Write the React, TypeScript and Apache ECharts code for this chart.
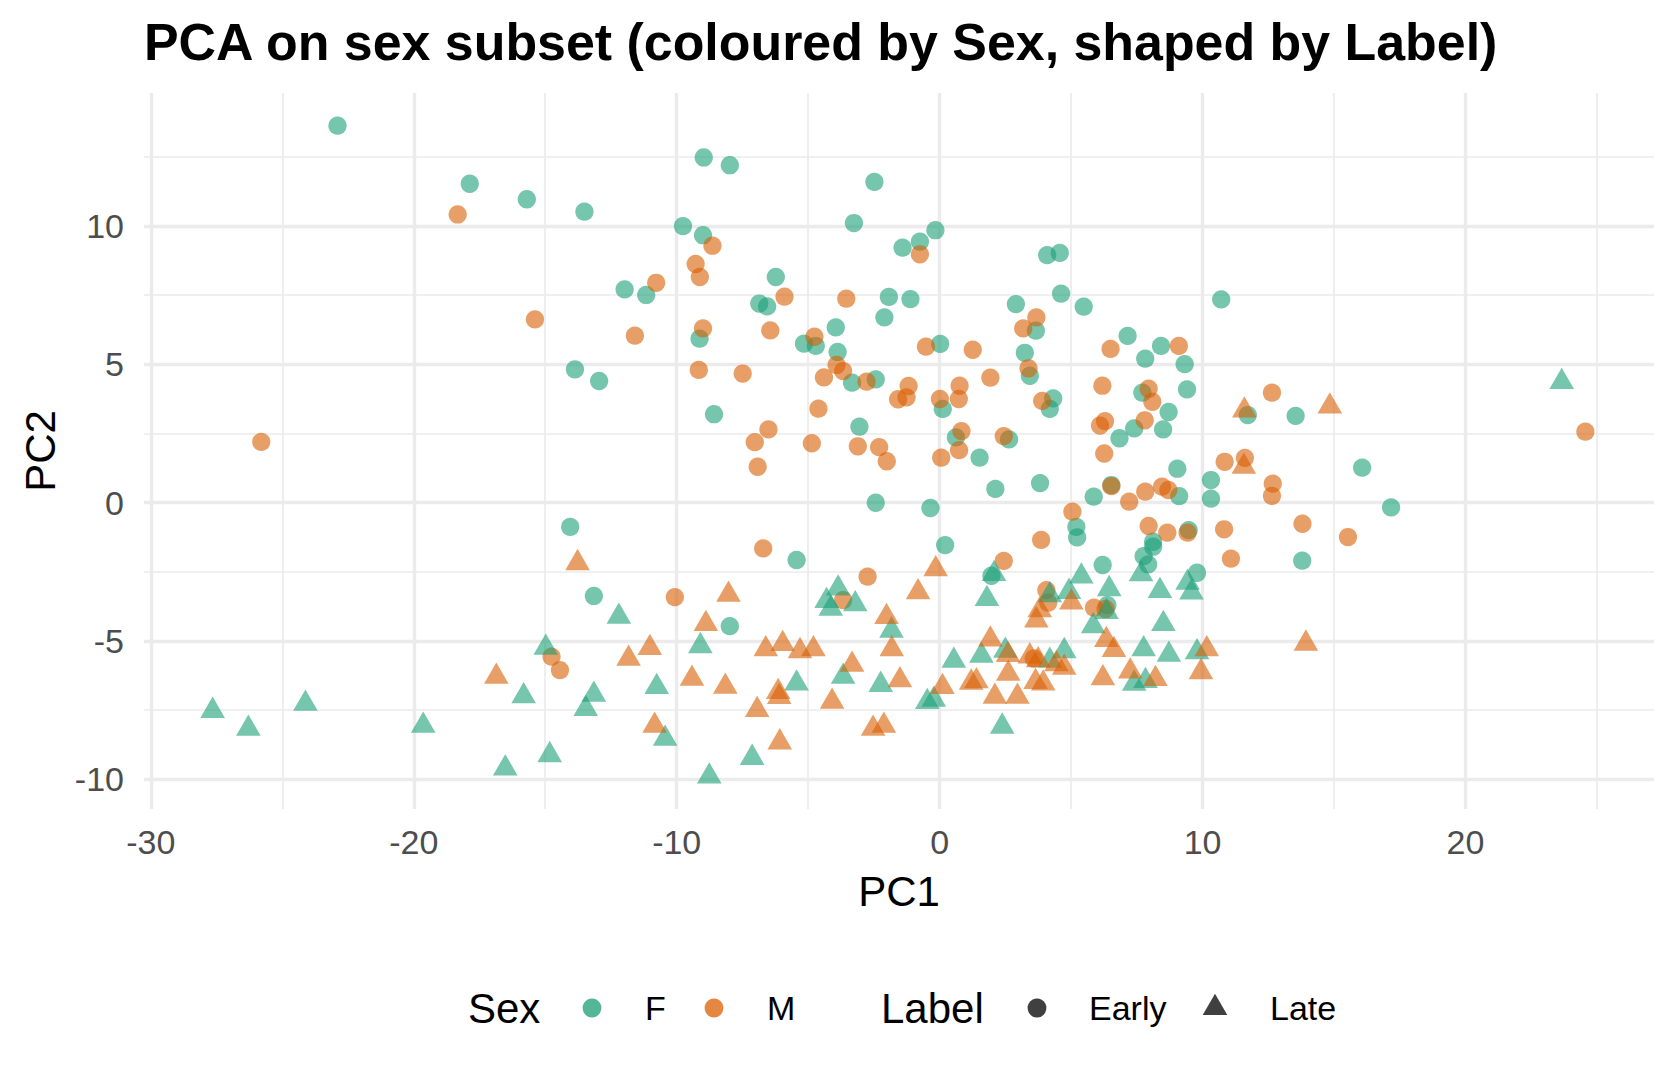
import React, { useEffect, useRef } from "react";
import * as echarts from "echarts";

// ---- data ----
const femaleEarly: number[][] = [
  [-22.9, 13.63], [-17.87, 11.53], [-15.7, 10.97], [-13.51, 10.52], [-13.87, 4.82], [-12.95, 4.4],
  [-8.97, 12.48], [-7.98, 12.2], [-2.48, 11.6], [-9.76, 10.0], [-9.0, 9.67], [-3.26, 10.11],
  [-1.41, 9.22], [-0.75, 9.44], [-0.16, 9.85], [4.09, 8.95], [4.57, 9.03], [-11.98, 7.71],
  [-11.16, 7.51], [-6.23, 8.16], [-6.86, 7.2], [-6.56, 7.1], [-1.93, 7.44], [-1.11, 7.36],
  [-2.1, 6.7], [2.9, 7.18], [4.62, 7.56], [5.48, 7.09], [3.66, 6.22], [-9.13, 5.93],
  [-3.95, 6.34], [-5.16, 5.75], [-4.71, 5.67], [-3.88, 5.45], [0.02, 5.74], [3.24, 5.42],
  [3.43, 4.59], [-3.33, 4.34], [-2.43, 4.46], [0.12, 3.39], [4.32, 3.77], [4.19, 3.39],
  [-8.58, 3.2], [-3.05, 2.75], [0.62, 2.36], [1.52, 1.63], [2.64, 2.29], [2.12, 0.5],
  [3.82, 0.71], [-2.43, 0.0], [-0.35, -0.19], [5.2, -0.87], [5.23, -1.25], [0.21, -1.53],
  [-14.05, -0.87], [-13.15, -3.37], [-7.98, -4.46], [-5.44, -2.07], [1.97, -2.64], [10.71, 7.35],
  [7.15, 6.03], [8.42, 5.67], [7.82, 5.21], [9.32, 5.01], [7.71, 3.98], [9.41, 4.1],
  [8.71, 3.28], [7.4, 2.69], [8.5, 2.65], [6.84, 2.33], [11.72, 3.17], [13.54, 3.14],
  [9.04, 1.23], [10.32, 0.82], [10.32, 0.15], [16.07, 1.27], [17.17, -0.17], [6.53, 0.64],
  [5.86, 0.22], [9.11, 0.24], [9.47, -0.99], [8.12, -1.41], [8.12, -1.59], [7.76, -1.93],
  [7.93, -2.23], [6.2, -2.25], [9.79, -2.53], [13.79, -2.09], [6.38, -3.7],
];

const maleEarly: number[][] = [
  [-18.33, 10.42], [-15.39, 6.63], [-25.8, 2.2], [-8.64, 9.29], [-0.75, 8.98], [-9.28, 8.63],
  [-9.12, 8.16], [-10.78, 7.95], [-5.9, 7.45], [-3.55, 7.38], [3.68, 6.7], [3.18, 6.3],
  [-11.59, 6.04], [-9.0, 6.3], [-6.44, 6.23], [-4.76, 6.0], [-0.52, 5.64], [1.26, 5.53],
  [3.38, 4.86], [-9.16, 4.8], [-7.49, 4.67], [-4.4, 4.53], [-3.92, 4.98], [-3.67, 4.76],
  [-2.78, 4.38], [-1.18, 4.22], [-1.58, 3.74], [-1.26, 3.81], [0.01, 3.75], [0.76, 4.23],
  [0.73, 3.75], [1.93, 4.52], [3.9, 3.68], [-4.61, 3.4], [-6.51, 2.65], [-7.03, 2.19],
  [-6.92, 1.3], [-4.86, 2.15], [-3.11, 2.04], [-2.3, 2.01], [-2.01, 1.5], [0.83, 2.59],
  [0.74, 1.9], [0.06, 1.63], [2.44, 2.41], [5.05, -0.32], [3.86, -1.34], [-6.71, -1.65],
  [-2.74, -2.67], [-3.67, -3.52], [-10.07, -3.41], [2.44, -2.1], [-14.76, -5.56], [-14.44, -6.05],
  [4.06, -3.16], [4.13, -3.61], [6.5, 5.56], [9.1, 5.67], [6.19, 4.23], [7.95, 4.12],
  [8.09, 3.65], [6.29, 2.95], [6.1, 2.79], [7.8, 2.98], [12.64, 3.98], [6.26, 1.78],
  [10.84, 1.48], [11.61, 1.62], [12.67, 0.69], [12.64, 0.25], [6.53, 0.6], [7.21, 0.04],
  [7.82, 0.4], [8.46, 0.58], [8.7, 0.46], [7.95, -0.84], [8.66, -1.08], [9.43, -1.08],
  [10.82, -0.96], [11.08, -2.02], [13.8, -0.76], [15.53, -1.24], [5.87, -3.79], [6.31, -3.84],
  [24.56, 2.57], [3.58, -5.63],
];

const femaleLate: number[][] = [
  [23.66, 4.37], [-27.65, -7.52], [-26.29, -8.17], [-24.12, -7.26], [-19.64, -8.06], [-16.52, -9.6],
  [-14.83, -9.12], [-15.82, -6.99], [-14.98, -5.24], [-13.15, -6.94], [-13.46, -7.45], [-12.2, -4.12],
  [-9.1, -5.18], [-10.76, -6.66], [-10.44, -8.53], [-7.13, -9.22], [-8.76, -9.89], [-3.86, -3.1],
  [-4.3, -3.55], [-4.14, -3.83], [-3.21, -3.67], [2.07, -2.57], [1.8, -3.48], [-1.83, -4.62],
  [-3.67, -6.29], [-2.24, -6.58], [-5.44, -6.53], [-0.47, -7.2], [-0.22, -7.12], [0.54, -5.71],
  [1.59, -5.53], [2.5, -5.35], [2.38, -8.09], [4.19, -5.71], [4.74, -5.36], [4.19, -3.34],
  [4.92, -3.22], [5.39, -2.66], [6.45, -3.12], [7.66, -2.58], [8.38, -3.19], [9.43, -2.89],
  [9.58, -3.24], [5.84, -4.46], [6.35, -3.95], [8.51, -4.38], [7.76, -5.29], [8.72, -5.49],
  [9.79, -5.4], [7.4, -6.54], [7.83, -6.44],
];

const maleLate: number[][] = [
  [-13.77, -2.18], [-16.86, -6.29], [-0.15, -2.4], [-8.03, -3.32], [-8.89, -4.38], [-0.82, -3.23],
  [-2.02, -4.13], [-1.82, -5.29], [-11.02, -5.25], [-11.83, -5.64], [-6.61, -5.29], [-5.97, -5.1],
  [-5.31, -5.36], [-4.8, -5.29], [-3.33, -5.85], [-1.51, -6.41], [-9.42, -6.36], [-8.15, -6.65],
  [-6.14, -6.84], [-6.1, -7.02], [-6.94, -7.49], [-4.09, -7.19], [-10.84, -8.06], [-6.08, -8.66],
  [-2.53, -8.17], [-2.12, -8.06], [0.11, -6.66], [1.93, -4.94], [2.6, -5.5], [1.2, -6.5],
  [1.4, -6.45], [2.61, -6.18], [2.1, -7.01], [2.96, -7.01], [3.43, -5.55], [3.75, -5.69],
  [4.44, -5.83], [4.74, -5.96], [3.65, -6.48], [3.94, -6.53], [3.81, -3.88], [3.68, -4.25],
  [5.01, -3.6], [11.57, 1.3], [11.59, 3.34], [14.84, 3.48], [6.34, -4.96], [6.63, -5.32],
  [10.16, -5.29], [7.25, -6.1], [6.21, -6.34], [8.21, -6.37], [9.94, -6.12], [13.93, -5.09],
];

const xMajorTicks = [-30, -20, -10, 0, 10, 20];
const xMinorTicks = [-25, -15, -5, 5, 15, 25];
const yMajorTicks = [-10, -5, 0, 5, 10];
const yMinorTicks = [-7.5, -2.5, 2.5, 7.5, 12.5];
const xLimits = [-30.26, 27.17];
const yLimits = [-11.07, 14.81];

const titleText = "PCA on sex subset (coloured by Sex, shaped by Label)";
const sexLevels = ["F", "M"];
const labelLevels = ["Early", "Late"];

const FONT = "'Liberation Sans', Arial, Helvetica, sans-serif";
const GREEN = "rgba(27,158,119,0.75)";
const ORANGE = "rgba(217,95,2,0.75)";
const DARK = "rgba(0,0,0,0.75)";
const CIRCLE_SIZE = 18.3;
const TRI_W = 24.6;
const TRI_H = 21.3;

export default function App() {
  const ref = useRef<HTMLDivElement>(null);

  useEffect(() => {
    document.body.style.margin = "0";
    if (!ref.current) return;
    const chart = echarts.init(ref.current, undefined, { renderer: "svg" });

    const gridColor = "#EBEBEB";
    const legendY = 1008;
    const dx = -4;

    const circleSeries = (name: string, data: number[][], color: string) => ({
      name,
      type: "scatter",
      data,
      symbol: "circle",
      symbolSize: CIRCLE_SIZE,
      itemStyle: { color },
      silent: true,
      z: 3,
    });
    const triSeries = (name: string, data: number[][], color: string) => ({
      name,
      type: "scatter",
      data,
      symbol: "triangle",
      symbolSize: [TRI_W, TRI_H],
      symbolOffset: [0, -TRI_H / 6],
      itemStyle: { color },
      silent: true,
      z: 3,
    });

    const legendText = (text: string, x: number, size: number) => ({
      type: "text",
      style: {
        text,
        x: x + dx,
        y: legendY,
        fontSize: size,
        fontFamily: FONT,
        fill: "#000000",
        align: "left",
        verticalAlign: "middle",
      },
      silent: true,
    });
    const legendCircle = (cx: number, fill: string) => ({
      type: "circle",
      shape: { cx: cx + dx, cy: legendY, r: 9.4 },
      style: { fill },
      silent: true,
    });

    const triCx = 1219 + dx;
    const option: any = {
      animation: false,
      backgroundColor: "#ffffff",
      title: {
        text: titleText,
        left: 144,
        top: 16,
        padding: 0,
        textStyle: { fontSize: 51.9, fontWeight: "bold", color: "#000000", fontFamily: FONT },
      },
      grid: { left: 144, right: 26, top: 93, bottom: 271, containLabel: false },
      xAxis: [
        {
          type: "value",
          min: xLimits[0],
          max: xLimits[1],
          name: "PC1",
          nameLocation: "middle",
          nameGap: 61,
          nameTextStyle: { fontSize: 42, color: "#000000", fontFamily: FONT },
          axisLine: { show: false },
          axisTick: { show: false, customValues: xMajorTicks },
          axisLabel: {
            customValues: xMajorTicks,
            fontSize: 34,
            color: "#4D4D4D",
            fontFamily: FONT,
            margin: 16,
          },
          splitLine: { show: true, lineStyle: { color: gridColor, width: 3.4 } },
        },
        {
          type: "value",
          min: xLimits[0],
          max: xLimits[1],
          position: "bottom",
          axisLine: { show: false },
          axisTick: { show: false, customValues: xMinorTicks },
          axisLabel: { show: false },
          splitLine: { show: true, lineStyle: { color: gridColor, width: 1.7 } },
        },
      ],
      yAxis: [
        {
          type: "value",
          min: yLimits[0],
          max: yLimits[1],
          name: "PC2",
          nameLocation: "middle",
          nameGap: 83,
          nameTextStyle: { fontSize: 42, color: "#000000", fontFamily: FONT },
          axisLine: { show: false },
          axisTick: { show: false, customValues: yMajorTicks },
          axisLabel: {
            customValues: yMajorTicks,
            fontSize: 34,
            color: "#4D4D4D",
            fontFamily: FONT,
            margin: 20,
          },
          splitLine: { show: true, lineStyle: { color: gridColor, width: 3.4 } },
        },
        {
          type: "value",
          min: yLimits[0],
          max: yLimits[1],
          position: "left",
          axisLine: { show: false },
          axisTick: { show: false, customValues: yMinorTicks },
          axisLabel: { show: false },
          splitLine: { show: true, lineStyle: { color: gridColor, width: 1.7 } },
        },
      ],
      series: [
        circleSeries("F Early", femaleEarly, GREEN),
        circleSeries("M Early", maleEarly, ORANGE),
        triSeries("F Late", femaleLate, GREEN),
        triSeries("M Late", maleLate, ORANGE),
      ],
      graphic: [
        legendText("Sex", 472, 42),
        legendCircle(596, GREEN),
        legendText(sexLevels[0], 649, 34),
        legendCircle(718, ORANGE),
        legendText(sexLevels[1], 771, 34),
        legendText("Label", 885, 42),
        legendCircle(1041, DARK),
        legendText(labelLevels[0], 1093, 34),
        {
          type: "polygon",
          shape: {
            points: [
              [triCx, legendY - (2 * TRI_H) / 3],
              [triCx + TRI_W / 2, legendY + TRI_H / 3],
              [triCx - TRI_W / 2, legendY + TRI_H / 3],
            ],
          },
          style: { fill: DARK },
          silent: true,
        },
        legendText(labelLevels[1], 1274, 34),
      ],
    };

    chart.setOption(option);
    return () => {
      chart.dispose();
    };
  }, []);

  return <div ref={ref} style={{ width: 1680, height: 1080 }} />;
}
